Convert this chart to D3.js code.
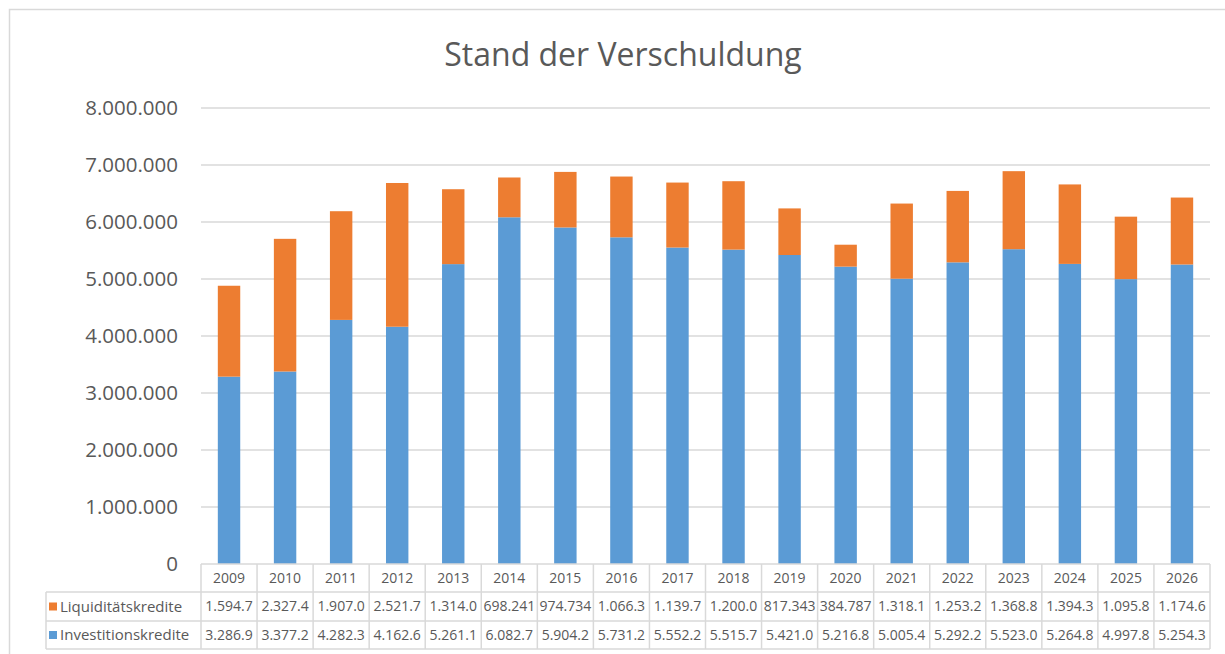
<!DOCTYPE html>
<html>
<head>
<meta charset="utf-8">
<script src="https://cdn.jsdelivr.net/npm/d3@7"></script>
<style>
body{margin:0;background:#fff;}
text{font-family:"Open Sans",Roboto,sans-serif;}
</style>
</head>
<body>
<svg id="chart" width="1225" height="654"></svg>
<script>
var years = ['2009','2010','2011','2012','2013','2014','2015','2016','2017','2018','2019','2020','2021','2022','2023','2024','2025','2026'];
var investitionskredite = [3286900,3377200,4282300,4162600,5261100,6082700,5904200,5731200,5552200,5515700,5421000,5216800,5005400,5292200,5523000,5264800,4997800,5254300];
var liquiditaetskredite = [1594700,2327400,1907000,2521700,1314000,698241,974734,1066300,1139700,1200000,817343,384787,1318100,1253200,1368800,1394300,1095800,1174600];
var yTicks = [0,1000000,2000000,3000000,4000000,5000000,6000000,7000000,8000000];
var seriesNames = ['Liquiditätskredite','Investitionskredite'];
var colors = {'Investitionskredite':'#5b9bd5','Liquiditätskredite':'#ed7d31'};

var svg = d3.select('#chart');
var plotLeft = 201, plotRight = 1210, plotTop = 108, plotBottom = 564;
var gridColor = '#d9d9d9', textColor = '#595959';

// chart border
svg.append('rect').attr('x',9.5).attr('y',9.5).attr('width',1300).attr('height',700)
  .attr('fill','none').attr('stroke',gridColor).attr('stroke-width',1.5);

svg.append('text').text('Stand der Verschuldung').attr('x',623).attr('y',66)
  .attr('text-anchor','middle').attr('font-size','32px').attr('fill',textColor);

var x = d3.scaleBand().domain(years).range([plotLeft,plotRight]).paddingInner(0.6).paddingOuter(0.3);
var xCell = d3.scaleBand().domain(years).range([plotLeft,plotRight]);
var y = d3.scaleLinear().domain([0,8000000]).range([plotBottom,plotTop]);

var fmt = function(v){ return d3.format(',')(v).replace(/,/g,'.'); };

// gridlines + y labels
var gy = svg.append('g');
yTicks.forEach(function(t){
  if (t > 0) gy.append('line').attr('x1',plotLeft).attr('x2',plotRight).attr('y1',y(t)).attr('y2',y(t))
    .attr('stroke',gridColor).attr('stroke-width',1.5);
  gy.append('text').text(fmt(t)).attr('x',178).attr('y',y(t)).attr('dy','0.35em')
    .attr('text-anchor','end').attr('font-size','20.5px').attr('fill',textColor);
});

// stacked bars
var rows = years.map(function(yr,i){ return {year:yr, Investitionskredite:investitionskredite[i], 'Liquiditätskredite':liquiditaetskredite[i]}; });
var stack = d3.stack().keys(['Investitionskredite','Liquiditätskredite'])(rows);
svg.append('g').selectAll('g').data(stack).join('g').attr('fill',function(d){ return colors[d.key]; })
  .selectAll('rect').data(function(d){ return d; }).join('rect')
  .attr('x',function(d){ return x(d.data.year); }).attr('width',x.bandwidth())
  .attr('y',function(d){ return y(d[1]); }).attr('height',function(d){ return y(d[0]) - y(d[1]); });

// data table
var rowTop = [564, 592, 621, 649];
var tableLeft = 46;
var gt = svg.append('g');
var lineAttr = function(l){ return l.attr('stroke',gridColor).attr('stroke-width',1.5); };
lineAttr(gt.append('line').attr('x1',plotLeft).attr('x2',plotRight).attr('y1',rowTop[0]).attr('y2',rowTop[0]));
for (var r=1; r<rowTop.length; r++){
  lineAttr(gt.append('line').attr('x1',tableLeft).attr('x2',plotRight).attr('y1',rowTop[r]).attr('y2',rowTop[r]));
}
lineAttr(gt.append('line').attr('x1',tableLeft).attr('x2',tableLeft).attr('y1',rowTop[1]).attr('y2',rowTop[3]));
years.forEach(function(yr){
  lineAttr(gt.append('line').attr('x1',xCell(yr)).attr('x2',xCell(yr)).attr('y1',rowTop[0]).attr('y2',rowTop[3]));
});
lineAttr(gt.append('line').attr('x1',plotRight).attr('x2',plotRight).attr('y1',rowTop[0]).attr('y2',rowTop[3]));

years.forEach(function(yr,i){
  var cx = xCell(yr) + xCell.bandwidth()/2;
  gt.append('text').text(yr).attr('x',cx).attr('y',(rowTop[0]+rowTop[1])/2).attr('dy','0.35em')
    .attr('text-anchor','middle').attr('font-size','14px').attr('fill',textColor);
  gt.append('text').text(fmt(liquiditaetskredite[i]).slice(0,7)).attr('x',cx).attr('y',(rowTop[1]+rowTop[2])/2).attr('dy','0.35em')
    .attr('text-anchor','middle').attr('font-size','14px').attr('fill',textColor);
  gt.append('text').text(fmt(investitionskredite[i]).slice(0,7)).attr('x',cx).attr('y',(rowTop[2]+rowTop[3])/2).attr('dy','0.35em')
    .attr('text-anchor','middle').attr('font-size','14px').attr('fill',textColor);
});

seriesNames.forEach(function(name,i){
  var cy = (rowTop[i+1]+rowTop[i+2])/2;
  gt.append('rect').attr('x',49).attr('y',cy-4).attr('width',8).attr('height',8).attr('fill',colors[name]);
  gt.append('text').text(name).attr('x',60).attr('y',cy).attr('dy','0.35em')
    .attr('font-size','15px').attr('fill',textColor);
});
</script>
</body>
</html>
